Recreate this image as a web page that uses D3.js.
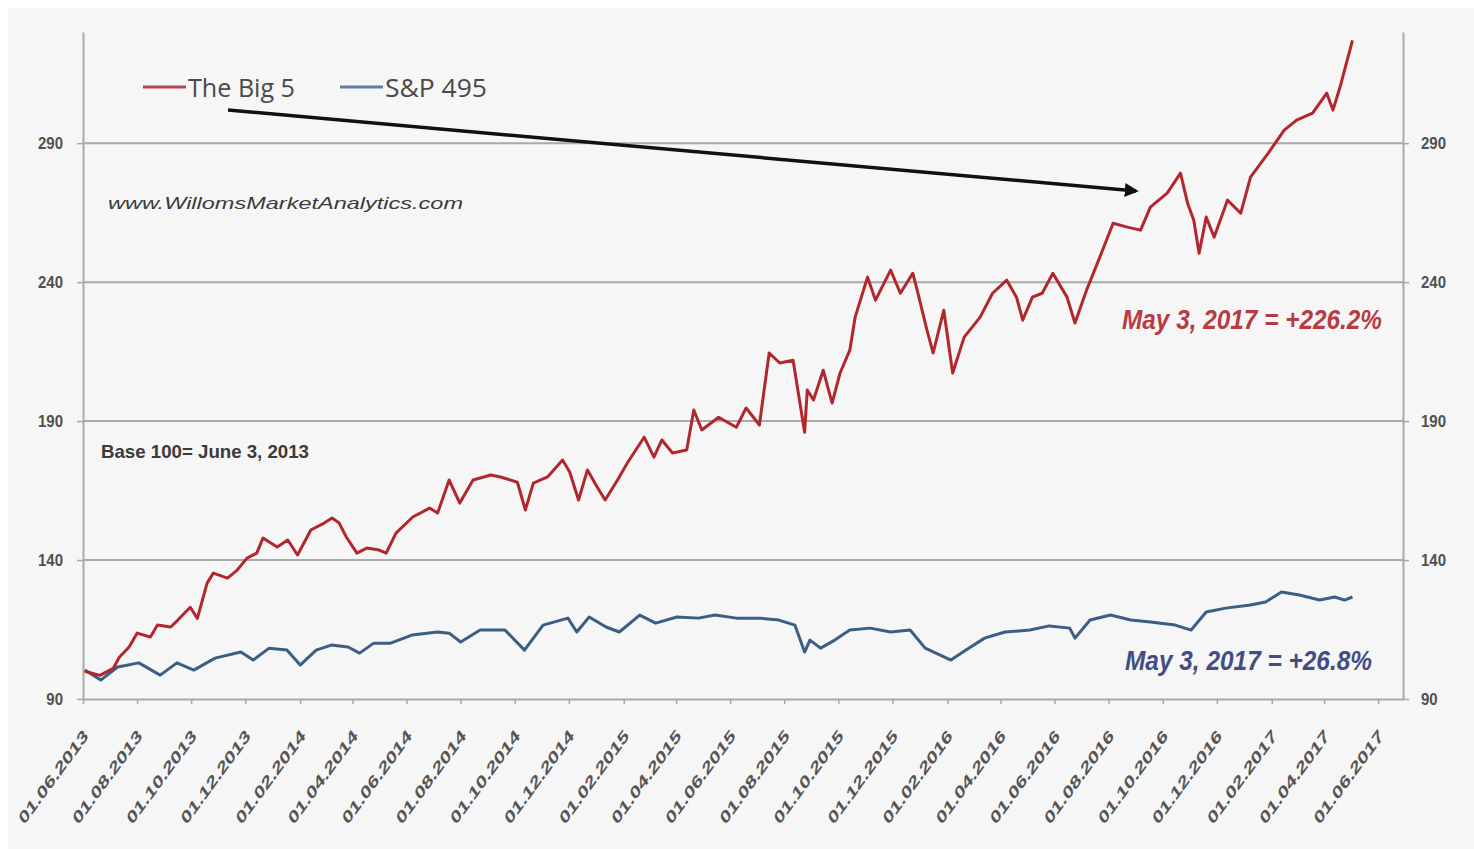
<!DOCTYPE html>
<html>
<head>
<meta charset="utf-8">
<script src="https://cdn.jsdelivr.net/npm/d3@7"></script>
<style>
  html, body { margin: 0; padding: 0; background: #ffffff; }
  svg { display: block; }
</style>
</head>
<body>
<svg id="chart" width="1474" height="849"></svg>
<script>
// ---------------- DATA ----------------
const seriesNames = ["The Big 5", "S&P 495"];

const bigFiveDates = ["2013-06-03","2013-06-20","2013-07-05","2013-07-12","2013-07-23","2013-08-01","2013-08-16","2013-08-24","2013-09-08","2013-09-16","2013-09-30","2013-10-08","2013-10-19","2013-10-26","2013-11-11","2013-11-22","2013-12-03","2013-12-14","2013-12-21",
"2014-01-06","2014-01-18","2014-01-29","2014-02-13","2014-02-28","2014-03-09","2014-03-17","2014-03-25","2014-04-06","2014-04-17","2014-05-01","2014-05-09","2014-05-20","2014-06-08","2014-06-27","2014-07-06","2014-07-19","2014-07-31","2014-08-15","2014-09-04","2014-09-15","2014-10-04","2014-10-13","2014-10-22","2014-11-07","2014-11-24","2014-12-02","2014-12-12","2014-12-22",
"2015-01-02","2015-01-11","2015-01-25","2015-02-05","2015-02-24","2015-03-07","2015-03-16","2015-03-28","2015-04-13","2015-04-21","2015-04-30","2015-05-19","2015-06-08","2015-06-19","2015-07-04","2015-07-15","2015-07-27","2015-08-11","2015-08-24","2015-08-27","2015-09-03","2015-09-14","2015-09-24","2015-10-03","2015-10-14","2015-10-20","2015-11-03","2015-11-12","2015-11-29","2015-12-10","2015-12-24","2015-12-29",
"2016-01-09","2016-01-16","2016-01-28","2016-02-07","2016-02-20","2016-03-09","2016-03-23","2016-04-08","2016-04-19","2016-04-26","2016-05-07","2016-05-18","2016-05-30","2016-06-15","2016-06-24","2016-07-07","2016-07-22","2016-08-06","2016-08-22","2016-09-06","2016-09-17","2016-10-06","2016-10-21","2016-10-29","2016-11-05","2016-11-11","2016-11-19","2016-11-28","2016-12-13","2016-12-28",
"2017-01-08","2017-01-28","2017-02-15","2017-03-01","2017-03-19","2017-04-04","2017-04-11","2017-04-19","2017-05-03"];
const bigFiveValues = [100,98.5,101,105,108.7,113.7,112.3,116.6,115.9,118.4,123,119,131.7,135.3,133.5,136.4,140.7,142.5,147.9,
144.7,147.2,141.8,150.8,153.3,155.1,153.3,148.3,142.5,144.3,143.6,142.5,149.7,155.5,158.7,156.9,168.8,160.5,168.8,170.6,169.9,168,158,167.7,169.9,176,171.7,161.6,172.4,
166.3,161.6,168.8,174.9,184.2,177,183.2,178.5,179.6,194,186.8,191.4,187.8,194.7,188.6,214.5,210.9,211.9,186,201.2,197.6,208.3,196.5,207.3,215.5,227.4,241.8,233.5,244.3,236,243.2,237.1,
222.7,214.5,229.9,207.3,220.2,227.4,236,240.7,234.6,226.3,234.6,236,243.2,234.6,225.3,237.1,249,261.2,259.8,258.7,267,272,279.2,268.4,262.3,250.4,263.4,256.2,269.5,264.8,
277.8,286.4,294.7,298.3,300.8,308,301.9,310.2,327];

const sp495Dates = ["2013-06-03","2013-06-21","2013-07-10","2013-08-03","2013-08-27","2013-09-15","2013-10-04","2013-10-28","2013-11-26","2013-12-10","2013-12-28",
"2014-01-17","2014-02-01","2014-02-19","2014-03-08","2014-03-27","2014-04-09","2014-04-25","2014-05-14","2014-06-07","2014-07-06","2014-07-19","2014-08-01","2014-08-23","2014-09-20","2014-10-12","2014-11-02","2014-11-30","2014-12-10","2014-12-24",
"2015-01-12","2015-01-27","2015-02-19","2015-03-09","2015-04-02","2015-04-26","2015-05-15","2015-06-08","2015-07-04","2015-07-26","2015-08-13","2015-08-24","2015-08-30","2015-09-11","2015-09-27","2015-10-14","2015-11-06","2015-11-29","2015-12-21",
"2016-01-07","2016-01-24","2016-02-05","2016-02-22","2016-03-14","2016-04-06","2016-05-04","2016-05-26","2016-06-18","2016-06-24","2016-07-11","2016-08-03","2016-08-26","2016-09-17","2016-10-15","2016-11-02","2016-11-19","2016-12-11",
"2017-01-08","2017-01-25","2017-02-12","2017-03-04","2017-03-27","2017-04-13","2017-04-24","2017-05-03"];
const sp495Values = [100.4,96.8,101.5,103,98.6,103,100.4,104.7,106.9,104,108.3,
107.6,102.2,107.6,109.4,108.7,106.5,110.1,110.1,113,114.1,113.7,110.5,114.8,114.8,107.6,116.6,119.1,114.1,119.5,
115.9,114.1,120.2,117.3,119.5,119.1,120.2,119.1,119.1,118.4,116.6,106.9,111.2,108.3,111.2,114.8,115.5,114.1,114.8,
108.3,105.8,104,107.6,111.9,114.1,114.8,116.3,115.5,111.9,118.4,120.2,118.4,117.7,116.6,114.8,121.3,122.7,
123.8,124.9,128.5,127.4,125.6,126.7,125.6,126.7];

const xTickLabels = ["01.06.2013","01.08.2013","01.10.2013","01.12.2013","01.02.2014","01.04.2014","01.06.2014","01.08.2014","01.10.2014","01.12.2014","01.02.2015","01.04.2015","01.06.2015","01.08.2015","01.10.2015","01.12.2015","01.02.2016","01.04.2016","01.06.2016","01.08.2016","01.10.2016","01.12.2016","01.02.2017","01.04.2017","01.06.2017"];
const yTickValues = [90, 140, 190, 240, 290];

const texts = {
  site: "www.WillomsMarketAnalytics.com",
  base: "Base 100= June 3, 2013",
  bigFiveNote: "May 3, 2017 = +226.2%",
  spNote: "May 3, 2017 = +26.8%"
};

// ---------------- LAYOUT ----------------
const svg = d3.select("#chart");
const parseISO = d3.timeParse("%Y-%m-%d");
const parseTick = d3.timeParse("%d.%m.%Y");

const plotL = 83, plotR = 1403, plotT = 32, plotB = 699;
const x = d3.scaleTime()
  .domain([parseISO("2013-06-01"), parseISO("2017-06-29")])
  .range([plotL, plotR]);
const y = d3.scaleLinear().domain([90, 330]).range([plotB, plotT]);

const colRed = "#b2272d", colBlue = "#3c5d84";
const axisCol = "#a9a9a9", labelCol = "#4a4a4a";

svg.append("rect").attr("x", 8).attr("y", 8).attr("width", 1466).attr("height", 841).attr("fill", "#f6f6f6");

function label(parent, str, px, py, o) {
  const t = parent.append("text")
    .attr("transform", `translate(${px},${py}) scale(1,${o.sy || 1})${o.rot ? ` rotate(${o.rot})` : ""}`)
    .attr("font-family", o.family || "'Liberation Sans', Arial, sans-serif")
    .attr("font-size", o.size)
    .attr("font-weight", o.weight || "normal")
    .attr("font-style", o.style || "normal")
    .attr("fill", o.fill || labelCol)
    .attr("text-anchor", o.anchor || "start")
    .text(str);
  if (o.len) t.attr("textLength", o.len).attr("lengthAdjust", "spacingAndGlyphs");
  return t;
}

// gridlines
const grid = svg.append("g");
grid.selectAll("line").data(yTickValues.filter(v => v !== 90)).join("line")
  .attr("x1", plotL).attr("x2", plotR)
  .attr("y1", d => y(d)).attr("y2", d => y(d))
  .attr("stroke", axisCol).attr("stroke-width", 2);

// axes
const yAxisL = d3.axisLeft(y).tickValues(yTickValues).tickSize(6).tickSizeOuter(0).tickFormat("");
const yAxisR = d3.axisRight(y).tickValues(yTickValues).tickSize(6).tickSizeOuter(0).tickFormat("");
const tickDates = xTickLabels.map(parseTick);
const xAxis = d3.axisBottom(x).tickValues(tickDates).tickSize(5).tickSizeOuter(0).tickFormat("");

function styleAxis(g) {
  g.selectAll("path").attr("stroke", axisCol).attr("stroke-width", 2);
  g.selectAll("line").attr("stroke", axisCol).attr("stroke-width", 1.5);
}
svg.append("g").attr("transform", `translate(${plotL},0)`).call(yAxisL).call(styleAxis);
svg.append("g").attr("transform", `translate(${plotR},0)`).call(yAxisR).call(styleAxis);
svg.append("g").attr("transform", `translate(0,${plotB})`).call(xAxis).call(styleAxis);

// y labels
yTickValues.forEach(v => {
  label(svg, String(v), 63, y(v) + 6, {size: 15, weight: "bold", anchor: "end", sy: 1.15, fill: "#505050"});
  label(svg, String(v), 1421, y(v) + 6, {size: 15, weight: "bold", anchor: "start", sy: 1.15, fill: "#505050"});
});

// x labels
tickDates.forEach((d, i) => {
  label(svg, xTickLabels[i], x(d) + 6, 737, {size: 13, weight: "bold", anchor: "end", sy: 1.36, rot: -45, len: 92, fill: "#555"});
});

// lines
const bigFive = bigFiveDates.map((d, i) => ({date: parseISO(d), value: bigFiveValues[i]}));
const sp495 = sp495Dates.map((d, i) => ({date: parseISO(d), value: sp495Values[i]}));
const lineGen = d3.line().x(d => x(d.date)).y(d => y(d.value)).curve(d3.curveLinear);

svg.append("path").datum(sp495).attr("d", lineGen)
  .attr("fill", "none").attr("stroke", colBlue).attr("stroke-width", 3).attr("stroke-linejoin", "round");
svg.append("path").datum(bigFive).attr("d", lineGen)
  .attr("fill", "none").attr("stroke", colRed).attr("stroke-width", 3).attr("stroke-linejoin", "round");

// legend
const legend = [
  {name: seriesNames[0], color: "#b04550", x0: 143, len: 107},
  {name: seriesNames[1], color: "#5b7fa6", x0: 340, len: 102}
];
legend.forEach(l => {
  svg.append("line").attr("x1", l.x0).attr("x2", l.x0 + 43).attr("y1", 87).attr("y2", 87)
    .attr("stroke", l.color).attr("stroke-width", 3);
  label(svg, l.name, l.x0 + 45, 97, {size: 20, sy: 1.3, len: l.len, fill: "#4a4a4a", family: "'Open Sans', sans-serif"});
});

// arrow
const defs = svg.append("defs");
defs.append("marker").attr("id", "arrowhead").attr("viewBox", "0 0 10 10")
  .attr("refX", 8).attr("refY", 5).attr("markerWidth", 4).attr("markerHeight", 4)
  .attr("orient", "auto")
  .append("path").attr("d", "M0,0 L10,5 L0,10 z").attr("fill", "#111");
svg.append("line").attr("x1", 228).attr("y1", 110).attr("x2", 1136).attr("y2", 191)
  .attr("stroke", "#111").attr("stroke-width", 3.5).attr("marker-end", "url(#arrowhead)");

// notes
label(svg, texts.site, 108, 209, {size: 17, style: "italic", len: 355, fill: "#3a3a3a"});
label(svg, texts.base, 101, 458, {size: 15, weight: "bold", sy: 1.2, len: 208, fill: "#3a3a3a"});
label(svg, texts.bigFiveNote, 1122, 329, {size: 21, weight: "bold", style: "italic", sy: 1.3, len: 260, fill: "#b83a44"});
label(svg, texts.spNote, 1125, 670, {size: 21, weight: "bold", style: "italic", sy: 1.3, len: 247, fill: "#414d84"});
</script>
</body>
</html>
